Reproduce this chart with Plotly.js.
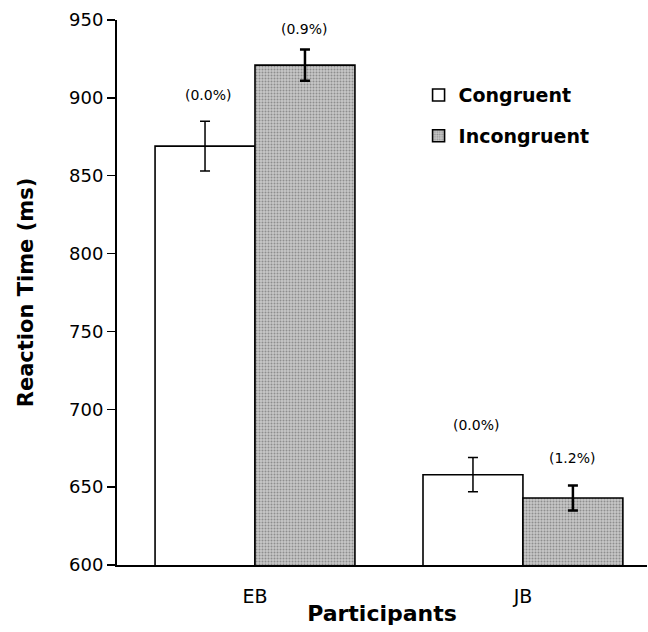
<!DOCTYPE html>
<html>
<head>
<meta charset="utf-8">
<script src="https://cdn.plot.ly/plotly-3.0.1.min.js"></script>
<style>body{margin:0;padding:0;background:#fff;} #chart{width:648px;height:632px;}</style>
</head>
<body>
<div id="chart"></div>
<script>
const participants = ["EB", "JB"];
const congruentRT = [869, 658];
const congruentErr = [16, 11];
const incongruentRT = [921, 643];
const incongruentErr = [10, 8];
const congruentErrRate = ["(0.0%)", "(0.0%)"];
const incongruentErrRate = ["(0.9%)", "(1.2%)"];
const congruentLabelY = [902, 690];
const incongruentLabelY = [944, 669];

const FONT = "DejaVu Sans, Verdana, sans-serif";

const traces = [
  {
    type: "bar", name: "Congruent", x: participants, y: congruentRT, legendgroup: "c",
    marker: {color: "#ffffff", line: {color: "#000", width: 1.6}},
    error_y: {type: "data", array: congruentErr, visible: true, color: "#000", thickness: 1.5, width: 5}
  },
  {
    type: "bar", name: "Incongruent", x: participants, y: incongruentRT, legendgroup: "i",
    marker: {color: "#c2c2c2", line: {color: "#000", width: 1.6},
      pattern: {shape: ".", bgcolor: "#c8c8c8", fgcolor: "#8e8e8e", size: 3, solidity: 0.35}},
    error_y: {type: "data", array: incongruentErr, visible: true, color: "#000", thickness: 2.5, width: 5}
  }
];

const annotations = [];
participants.forEach((p, i) => {
  annotations.push({x: i, xshift: -46, y: congruentLabelY[i], text: congruentErrRate[i], showarrow: false, font: {size: 14, color: "#000", family: FONT}});
  annotations.push({x: i, xshift: 50, y: incongruentLabelY[i], text: incongruentErrRate[i], showarrow: false, font: {size: 14, color: "#000", family: FONT}});
});

const layout = {
  width: 648, height: 632,
  margin: {l: 117, r: 1, t: 20, b: 67},
  paper_bgcolor: "#fff", plot_bgcolor: "#fff",
  barmode: "group", bargap: 0.254, bargroupgap: 0,
  font: {family: FONT, color: "#000"},
  showlegend: true,
  legend: {x: 0.569, y: 0.897, xanchor: "left", yanchor: "top", bgcolor: "rgba(0,0,0,0)",
    font: {size: 19, weight: "bold", color: "#000", family: FONT}, tracegroupgap: 13, itemwidth: 30},
  xaxis: {
    range: [-0.515, 1.463], showline: true, linecolor: "#000", linewidth: 2,
    ticks: "", ticklabelstandoff: 13, tickfont: {size: 19}, showgrid: false,
    title: {text: "Participants", font: {size: 22, weight: "bold"}, standoff: 0}
  },
  yaxis: {
    range: [600, 950], dtick: 50, showline: true, linecolor: "#000", linewidth: 2,
    ticks: "outside", ticklen: 8, tickwidth: 1.5, tickcolor: "#000", tickfont: {size: 18},
    showgrid: false, zeroline: false,
    title: {text: "Reaction Time (ms)", font: {size: 21, weight: "bold"}, standoff: 30}
  },
  annotations: annotations
};

Plotly.newPlot("chart", traces, layout, {displayModeBar: false, staticPlot: true});
</script>
</body>
</html>
